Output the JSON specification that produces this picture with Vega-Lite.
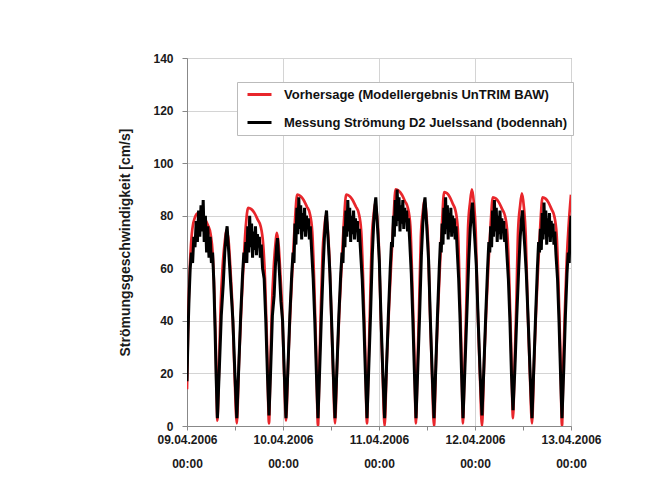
{
"$schema": "https://vega.github.io/schema/vega-lite/v6.json",
"width": 384, "height": 368,
"autosize": {"type": "none"},
"padding": {"left": 187, "top": 58, "right": 79, "bottom": 61},
"background": "white",
"datasets": {
"red": [
{"t":0,"v":14},{"t":0.3,"v":40},{"t":0.7,"v":60},{"t":1.2,"v":73},{"t":1.9,"v":79},{"t":2.75,"v":81},{"t":3.6,"v":80.5},{"t":4.4,"v":79},{"t":5.2,"v":76.5},{"t":5.9,"v":73},{"t":6.4,"v":66},{"t":6.8,"v":52},{"t":7.2,"v":30},{"t":7.6,"v":2},
{"t":8.0,"v":22},{"t":8.4,"v":45},{"t":8.9,"v":60.5},{"t":9.4,"v":69.5},{"t":9.95,"v":74.5},{"t":10.45,"v":69.5},{"t":10.9,"v":58.5},{"t":11.35,"v":45},{"t":11.85,"v":22},{"t":12.45,"v":1},
{"t":13.01,"v":25},{"t":13.58,"v":45},{"t":14.14,"v":62},{"t":14.7,"v":76},{"t":15.27,"v":83},{"t":16.07,"v":82.5},{"t":16.88,"v":81},{"t":17.68,"v":78.5},{"t":18.41,"v":76},{"t":19.05,"v":69},{"t":19.53,"v":55},{"t":20.02,"v":30},{"t":20.5,"v":1},
{"t":20.84,"v":22},{"t":21.22,"v":45},{"t":21.65,"v":59.5},{"t":22.07,"v":68.5},{"t":22.5,"v":73.5},{"t":22.92,"v":68.5},{"t":23.35,"v":57.5},{"t":23.77,"v":45},{"t":24.24,"v":22},{"t":24.75,"v":2},
{"t":25.31,"v":25},{"t":25.87,"v":45},{"t":26.43,"v":62},{"t":26.99,"v":78},{"t":27.55,"v":88},{"t":28.35,"v":87.5},{"t":29.15,"v":86},{"t":29.95,"v":83.5},{"t":30.67,"v":81},{"t":31.31,"v":74},{"t":31.79,"v":55},{"t":32.27,"v":30},{"t":32.75,"v":0},
{"t":33.09,"v":22},{"t":33.47,"v":45},{"t":33.9,"v":66},{"t":34.32,"v":75},{"t":34.75,"v":80},{"t":35.17,"v":75},{"t":35.6,"v":64},{"t":36.02,"v":45},{"t":36.49,"v":22},{"t":37,"v":1},
{"t":37.56,"v":25},{"t":38.12,"v":45},{"t":38.68,"v":62},{"t":39.24,"v":78},{"t":39.8,"v":88},{"t":40.6,"v":87.5},{"t":41.4,"v":86},{"t":42.2,"v":83.5},{"t":42.92,"v":81},{"t":43.56,"v":74},{"t":44.04,"v":55},{"t":44.52,"v":30},{"t":45,"v":1},
{"t":45.35,"v":22},{"t":45.75,"v":45},{"t":46.19,"v":71},{"t":46.63,"v":80},{"t":47.07,"v":85},{"t":47.51,"v":80},{"t":47.95,"v":69},{"t":48.39,"v":45},{"t":48.87,"v":22},{"t":49.4,"v":0},
{"t":49.95,"v":25},{"t":50.5,"v":45},{"t":51.05,"v":62},{"t":51.6,"v":78},{"t":52.15,"v":90},{"t":52.93,"v":89.5},{"t":53.72,"v":88},{"t":54.5,"v":85.5},{"t":55.21,"v":83},{"t":55.84,"v":76},{"t":56.31,"v":55},{"t":56.78,"v":30},{"t":57.25,"v":1},
{"t":57.61,"v":22},{"t":58.02,"v":45},{"t":58.47,"v":72},{"t":58.92,"v":81},{"t":59.37,"v":86},{"t":59.82,"v":81},{"t":60.27,"v":70},{"t":60.72,"v":45},{"t":61.21,"v":22},{"t":61.75,"v":0},
{"t":62.26,"v":25},{"t":62.77,"v":45},{"t":63.27,"v":62},{"t":63.78,"v":78},{"t":64.29,"v":89},{"t":65.01,"v":88.5},{"t":65.74,"v":87},{"t":66.46,"v":84.5},{"t":67.12,"v":82},{"t":67.7,"v":75},{"t":68.13,"v":55},{"t":68.57,"v":30},{"t":69,"v":1},
{"t":69.38,"v":22},{"t":69.81,"v":45},{"t":70.28,"v":76},{"t":70.76,"v":85},{"t":71.23,"v":90},{"t":71.71,"v":85},{"t":72.18,"v":74},{"t":72.66,"v":45},{"t":73.18,"v":22},{"t":73.75,"v":0},
{"t":74.29,"v":25},{"t":74.84,"v":45},{"t":75.38,"v":62},{"t":75.92,"v":77},{"t":76.46,"v":87},{"t":77.24,"v":86.5},{"t":78.01,"v":85},{"t":78.79,"v":82.5},{"t":79.49,"v":80},{"t":80.1,"v":73},{"t":80.57,"v":55},{"t":81.04,"v":30},{"t":81.5,"v":3},
{"t":81.88,"v":22},{"t":82.31,"v":45},{"t":82.78,"v":74.5},{"t":83.26,"v":83.5},{"t":83.73,"v":88.5},{"t":84.21,"v":83.5},{"t":84.68,"v":72.5},{"t":85.16,"v":45},{"t":85.68,"v":22},{"t":86.25,"v":1},
{"t":86.78,"v":25},{"t":87.3,"v":45},{"t":87.83,"v":62},{"t":88.35,"v":77},{"t":88.88,"v":87},{"t":89.63,"v":86.5},{"t":90.38,"v":85},{"t":91.13,"v":82.5},{"t":91.8,"v":80},{"t":92.4,"v":73},{"t":92.85,"v":55},{"t":93.3,"v":30},{"t":93.75,"v":0},
{"t":94.1,"v":25},{"t":94.5,"v":45},{"t":94.9,"v":62},{"t":95.4,"v":76},{"t":96,"v":88}
],
"black": [
{"t":0,"v":17},{"t":0.25,"v":35},{"t":0.5,"v":48},{"t":0.8,"v":60},{"t":1.1,"v":66},{"t":1.4,"v":62},{"t":1.7,"v":72},{"t":2.0,"v":68},{"t":2.3,"v":78},{"t":2.6,"v":70},{"t":2.9,"v":82},{"t":3.2,"v":72},{"t":3.5,"v":84},{"t":3.8,"v":74},{"t":4.05,"v":86},{"t":4.3,"v":70},{"t":4.6,"v":80},{"t":4.9,"v":66},{"t":5.2,"v":76},{"t":5.5,"v":64},{"t":5.8,"v":72},{"t":6.1,"v":62},{"t":6.4,"v":66},{"t":6.7,"v":55},{"t":7.0,"v":38},{"t":7.3,"v":18},{"t":7.6,"v":3},
{"t":8.09,"v":22},{"t":8.57,"v":42},{"t":9.06,"v":54},{"t":9.44,"v":66},{"t":9.78,"v":73},{"t":10.03,"v":76},{"t":10.27,"v":70},{"t":10.61,"v":62},{"t":11.0,"v":52},{"t":11.48,"v":40},{"t":11.97,"v":20},{"t":12.45,"v":3},
{"t":12.93,"v":22},{"t":13.42,"v":42},{"t":13.9,"v":58},{"t":14.22,"v":66},{"t":14.46,"v":62},{"t":14.7,"v":70},{"t":14.95,"v":62},{"t":15.19,"v":76},{"t":15.43,"v":66},{"t":15.67,"v":80},{"t":15.91,"v":68},{"t":16.15,"v":77},{"t":16.39,"v":64},{"t":16.64,"v":74},{"t":16.88,"v":67},{"t":17.12,"v":76},{"t":17.36,"v":65},{"t":17.6,"v":73},{"t":17.84,"v":68},{"t":18.09,"v":72},{"t":18.33,"v":64},{"t":18.57,"v":69},{"t":18.89,"v":60},{"t":19.29,"v":56},{"t":19.7,"v":40},{"t":20.1,"v":20},{"t":20.5,"v":4},
{"t":20.93,"v":22},{"t":21.35,"v":42},{"t":21.78,"v":49.5},{"t":22.12,"v":61.5},{"t":22.41,"v":68.5},{"t":22.63,"v":71.5},{"t":22.84,"v":65.5},{"t":23.14,"v":57.5},{"t":23.48,"v":47.5},{"t":23.9,"v":40},{"t":24.33,"v":20},{"t":24.75,"v":3},
{"t":25.23,"v":22},{"t":25.71,"v":42},{"t":26.19,"v":58},{"t":26.51,"v":66},{"t":26.75,"v":62},{"t":26.99,"v":77},{"t":27.23,"v":69},{"t":27.47,"v":83},{"t":27.71,"v":73},{"t":27.95,"v":87},{"t":28.19,"v":75},{"t":28.43,"v":84},{"t":28.67,"v":71},{"t":28.91,"v":81},{"t":29.15,"v":74},{"t":29.39,"v":83},{"t":29.63,"v":72},{"t":29.87,"v":80},{"t":30.11,"v":75},{"t":30.35,"v":79},{"t":30.59,"v":71},{"t":30.83,"v":76},{"t":31.15,"v":67},{"t":31.55,"v":56},{"t":31.95,"v":40},{"t":32.35,"v":20},{"t":32.75,"v":3},
{"t":33.18,"v":22},{"t":33.6,"v":42},{"t":34.03,"v":60},{"t":34.37,"v":72},{"t":34.66,"v":79},{"t":34.88,"v":82},{"t":35.09,"v":76},{"t":35.39,"v":68},{"t":35.73,"v":58},{"t":36.15,"v":40},{"t":36.58,"v":20},{"t":37,"v":3},
{"t":37.48,"v":22},{"t":37.96,"v":42},{"t":38.44,"v":58},{"t":38.76,"v":66},{"t":39.0,"v":62},{"t":39.24,"v":76},{"t":39.48,"v":68},{"t":39.72,"v":82},{"t":39.96,"v":72},{"t":40.2,"v":86},{"t":40.44,"v":74},{"t":40.68,"v":83},{"t":40.92,"v":70},{"t":41.16,"v":80},{"t":41.4,"v":73},{"t":41.64,"v":82},{"t":41.88,"v":71},{"t":42.12,"v":79},{"t":42.36,"v":74},{"t":42.6,"v":78},{"t":42.84,"v":70},{"t":43.08,"v":75},{"t":43.4,"v":66},{"t":43.8,"v":56},{"t":44.2,"v":40},{"t":44.6,"v":20},{"t":45,"v":3},
{"t":45.44,"v":22},{"t":45.88,"v":42},{"t":46.32,"v":65},{"t":46.67,"v":77},{"t":46.98,"v":84},{"t":47.2,"v":87},{"t":47.42,"v":81},{"t":47.73,"v":73},{"t":48.08,"v":63},{"t":48.52,"v":40},{"t":48.96,"v":20},{"t":49.4,"v":3},
{"t":49.87,"v":22},{"t":50.34,"v":42},{"t":50.81,"v":60},{"t":51.13,"v":70},{"t":51.36,"v":68},{"t":51.6,"v":80},{"t":51.83,"v":72},{"t":52.07,"v":86},{"t":52.3,"v":76},{"t":52.54,"v":90},{"t":52.78,"v":78},{"t":53.01,"v":87},{"t":53.25,"v":74},{"t":53.48,"v":84},{"t":53.72,"v":77},{"t":53.95,"v":86},{"t":54.19,"v":75},{"t":54.42,"v":83},{"t":54.66,"v":78},{"t":54.9,"v":82},{"t":55.13,"v":74},{"t":55.37,"v":79},{"t":55.68,"v":70},{"t":56.07,"v":58},{"t":56.47,"v":40},{"t":56.86,"v":20},{"t":57.25,"v":3},
{"t":57.7,"v":22},{"t":58.15,"v":42},{"t":58.6,"v":65},{"t":58.96,"v":77},{"t":59.28,"v":84},{"t":59.5,"v":87},{"t":59.73,"v":81},{"t":60.04,"v":73},{"t":60.4,"v":63},{"t":60.85,"v":40},{"t":61.3,"v":20},{"t":61.75,"v":3},
{"t":62.19,"v":22},{"t":62.62,"v":42},{"t":63.06,"v":60},{"t":63.35,"v":70},{"t":63.56,"v":66},{"t":63.78,"v":77},{"t":64.0,"v":69},{"t":64.22,"v":83},{"t":64.43,"v":73},{"t":64.65,"v":87},{"t":64.87,"v":75},{"t":65.09,"v":84},{"t":65.3,"v":71},{"t":65.52,"v":81},{"t":65.74,"v":74},{"t":65.96,"v":83},{"t":66.17,"v":72},{"t":66.39,"v":80},{"t":66.61,"v":75},{"t":66.83,"v":79},{"t":67.04,"v":71},{"t":67.26,"v":76},{"t":67.55,"v":67},{"t":67.91,"v":56},{"t":68.28,"v":40},{"t":68.64,"v":20},{"t":69,"v":3},
{"t":69.48,"v":22},{"t":69.95,"v":42},{"t":70.43,"v":63},{"t":70.81,"v":75},{"t":71.14,"v":82},{"t":71.38,"v":85},{"t":71.61,"v":79},{"t":71.95,"v":71},{"t":72.33,"v":61},{"t":72.8,"v":40},{"t":73.28,"v":20},{"t":73.75,"v":4},
{"t":74.22,"v":22},{"t":74.68,"v":42},{"t":75.15,"v":60},{"t":75.46,"v":70},{"t":75.69,"v":66},{"t":75.92,"v":76},{"t":76.15,"v":68},{"t":76.39,"v":82},{"t":76.62,"v":72},{"t":76.85,"v":86},{"t":77.08,"v":74},{"t":77.32,"v":83},{"t":77.55,"v":70},{"t":77.78,"v":80},{"t":78.01,"v":73},{"t":78.25,"v":82},{"t":78.48,"v":71},{"t":78.71,"v":79},{"t":78.94,"v":74},{"t":79.18,"v":78},{"t":79.41,"v":70},{"t":79.64,"v":75},{"t":79.95,"v":66},{"t":80.34,"v":56},{"t":80.73,"v":40},{"t":81.11,"v":20},{"t":81.5,"v":6},
{"t":81.98,"v":22},{"t":82.45,"v":42},{"t":82.93,"v":60},{"t":83.31,"v":72},{"t":83.64,"v":79},{"t":83.88,"v":82},{"t":84.11,"v":76},{"t":84.45,"v":68},{"t":84.83,"v":58},{"t":85.3,"v":40},{"t":85.78,"v":20},{"t":86.25,"v":3},
{"t":86.7,"v":22},{"t":87.15,"v":42},{"t":87.6,"v":60},{"t":87.9,"v":70},{"t":88.13,"v":66},{"t":88.35,"v":75},{"t":88.58,"v":67},{"t":88.8,"v":81},{"t":89.03,"v":71},{"t":89.25,"v":85},{"t":89.48,"v":73},{"t":89.7,"v":82},{"t":89.93,"v":69},{"t":90.15,"v":79},{"t":90.38,"v":72},{"t":90.6,"v":81},{"t":90.83,"v":70},{"t":91.05,"v":78},{"t":91.28,"v":73},{"t":91.5,"v":77},{"t":91.73,"v":69},{"t":91.95,"v":74},{"t":92.25,"v":65},{"t":92.63,"v":56},{"t":93.0,"v":40},{"t":93.38,"v":20},{"t":93.75,"v":3},
{"t":94.2,"v":22},{"t":94.6,"v":42},{"t":95.0,"v":58},{"t":95.3,"v":66},{"t":95.55,"v":62},{"t":95.8,"v":75},{"t":96,"v":80}
]
},
"layer": [
{
"data": {"name": "red"},
"mark": {"type": "line", "strokeWidth": 2.7, "interpolate": "monotone", "clip": true},
"encoding": {
"x": {"field": "t", "type": "quantitative",
"scale": {"domain": [0, 96], "nice": false, "zero": false},
"axis": {"title": null, "values": [0,6,12,18,24,30,36,42,48,54,60,66,72,78,84,90,96],
"labelExpr": "datum.value % 24 === 0 ? [['09.04.2006','10.04.2006','11.04.2006','12.04.2006','13.04.2006'][datum.value/24], '00:00'] : ''",
"gridOpacity": {"condition": {"test": "datum.value % 24 === 0", "value": 1}, "value": 0},
"labelLineHeight": 24, "labelPadding": 4, "tickSize": 4, "labelFlush": false}},
"y": {"field": "v", "type": "quantitative",
"scale": {"domain": [0, 140], "nice": false},
"axis": {"title": "Strömungsgeschwindigkeit [cm/s]", "values": [0,10,20,30,40,50,60,70,80,90,100,110,120,130,140],
"labelExpr": "datum.value % 20 === 0 ? datum.label : ''",
"gridOpacity": {"condition": {"test": "datum.value % 20 === 0", "value": 1}, "value": 0},
"tickSize": 5, "labelPadding": 9, "titlePadding": 20}},
"color": {"datum": "Vorhersage (Modellergebnis UnTRIM BAW)",
"scale": {"domain": ["Vorhersage (Modellergebnis UnTRIM BAW)", "Messung Strömung D2 Juelssand (bodennah)"], "range": ["#e8262b", "#000000"]},
"legend": {"title": null, "orient": "none", "legendX": 50, "legendY": 24,
"symbolType": "M-2,0H2", "symbolStrokeWidth": 3, "symbolSize": 144, "symbolOffset": 10,
"fillColor": "white", "strokeColor": "#bbbbbb", "padding": 5,
"rowPadding": 13, "labelOffset": 17, "labelFontSize": 13, "labelFont": "Liberation Sans", "labelFontWeight": "bold", "labelColor": "#111111", "labelLimit": 400}}
}
},
{
"data": {"name": "black"},
"mark": {"type": "line", "strokeWidth": 3, "clip": true},
"encoding": {
"x": {"field": "t", "type": "quantitative"},
"y": {"field": "v", "type": "quantitative"},
"color": {"datum": "Messung Strömung D2 Juelssand (bodennah)"}
}
}
],
"config": {
"view": {"stroke": "#999999", "strokeWidth": 1},
"axis": {"labelFont": "Liberation Sans", "labelFontWeight": "bold", "labelFontSize": 12, "labelColor": "#1a1a1a",
"titleFont": "Liberation Sans", "titleFontWeight": "bold", "titleFontSize": 14, "titleColor": "#1a1a1a",
"domainColor": "#888888", "tickColor": "#888888", "gridColor": "#d4d4d4", "gridWidth": 1}
}
}
